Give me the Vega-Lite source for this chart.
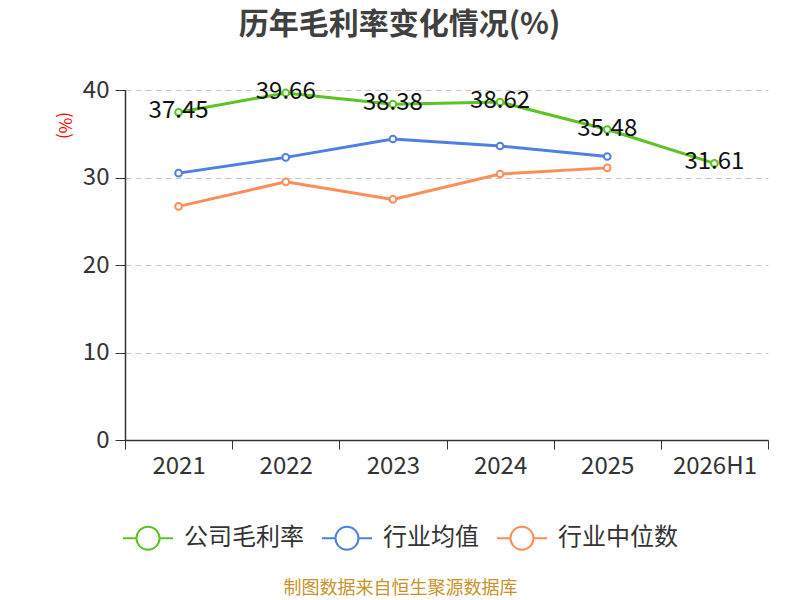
{
  "$schema": "https://vega.github.io/schema/vega-lite/v6.json",
  "width": 643,
  "height": 350,
  "autosize": {"type": "none"},
  "padding": {"left": 125, "top": 90, "right": 32, "bottom": 160},
  "background": "white",
  "config": {
    "view": {"stroke": null},
    "font": "Noto Sans CJK SC"
  },
  "title": {
    "text": "历年毛利率变化情况(%)",
    "fontSize": 30,
    "fontWeight": "bold",
    "color": "#404040",
    "anchor": "middle",
    "dx": -47,
    "offset": 38
  },
  "data": {
    "values": [
      {"year": "2021", "series": "公司毛利率", "value": 37.45},
      {"year": "2022", "series": "公司毛利率", "value": 39.66},
      {"year": "2023", "series": "公司毛利率", "value": 38.38},
      {"year": "2024", "series": "公司毛利率", "value": 38.62},
      {"year": "2025", "series": "公司毛利率", "value": 35.48},
      {"year": "2026H1", "series": "公司毛利率", "value": 31.61},
      {"year": "2021", "series": "行业均值", "value": 30.5},
      {"year": "2022", "series": "行业均值", "value": 32.3},
      {"year": "2023", "series": "行业均值", "value": 34.4},
      {"year": "2024", "series": "行业均值", "value": 33.6},
      {"year": "2025", "series": "行业均值", "value": 32.4},
      {"year": "2021", "series": "行业中位数", "value": 26.7},
      {"year": "2022", "series": "行业中位数", "value": 29.5},
      {"year": "2023", "series": "行业中位数", "value": 27.5},
      {"year": "2024", "series": "行业中位数", "value": 30.4},
      {"year": "2025", "series": "行业中位数", "value": 31.1}
    ]
  },
  "encoding": {
    "x": {
      "field": "year",
      "type": "ordinal",
      "bandPosition": 0.5,
      "scale": {"type": "band", "paddingInner": 0, "paddingOuter": 0},
      "axis": {
        "title": "制图数据来自恒生聚源数据库",
        "titleColor": "#c8932a",
        "titleFontSize": 18,
        "titleFontWeight": "normal",
        "titleX": 275,
        "titleY": 148,
        "titleAlign": "center",
        "titleBaseline": "middle",
        "labelAngle": 0,
        "labelFontSize": 24,
        "labelColor": "#333333",
        "labelPadding": 5,
        "tickBand": "extent",
        "tickSize": 9,
        "tickColor": "#333333",
        "domainColor": "#333333",
        "domainWidth": 1.5,
        "grid": false
      }
    },
    "y": {
      "field": "value",
      "type": "quantitative",
      "scale": {"domain": [0, 40]},
      "axis": {
        "title": "(%)",
        "titleColor": "red",
        "titleFontSize": 17,
        "titleFontWeight": "normal",
        "titleAngle": 90,
        "titleX": -62,
        "titleY": 35,
        "titleAlign": "center",
        "titleBaseline": "middle",
        "values": [0, 10, 20, 30, 40],
        "labelFontSize": 24,
        "labelColor": "#333333",
        "labelPadding": 6,
        "tickSize": 10,
        "tickColor": "#333333",
        "domainColor": "#333333",
        "domainWidth": 1.5,
        "grid": true,
        "gridColor": "#c8c8c8",
        "gridDash": [6, 4],
        "gridWidth": 1
      }
    },
    "color": {
      "field": "series",
      "type": "nominal",
      "scale": {
        "domain": ["公司毛利率", "行业均值", "行业中位数"],
        "range": ["#5bc323", "#4f80e1", "#ff8d59"]
      },
      "legend": {
        "title": null,
        "orient": "none",
        "direction": "horizontal",
        "legendX": -3,
        "legendY": 422,
        "symbolType": "M-1,0L-0.46,0M0.46,0L1,0M0.46,0A0.46,0.46 0 1,1 -0.46,0A0.46,0.46 0 1,1 0.46,0Z",
        "symbolSize": 2500,
        "symbolStrokeWidth": 2,
        "symbolFillColor": "white",
        "labelFontSize": 24,
        "labelColor": "#333333",
        "labelOffset": 10,
        "columnPadding": 14
      }
    }
  },
  "layer": [
    {
      "mark": {"type": "line", "strokeWidth": 3}
    },
    {
      "mark": {"type": "point", "filled": false, "fill": "white", "opacity": 1, "size": 45, "strokeWidth": 2}
    },
    {
      "transform": [{"filter": "datum.series === '公司毛利率'"}],
      "mark": {"type": "text", "fontSize": 24, "color": "#111111", "baseline": "middle", "dy": -1},
      "encoding": {
        "text": {"field": "value", "type": "quantitative", "format": ".2f"},
        "color": {"value": "#111111"}
      }
    }
  ]
}
